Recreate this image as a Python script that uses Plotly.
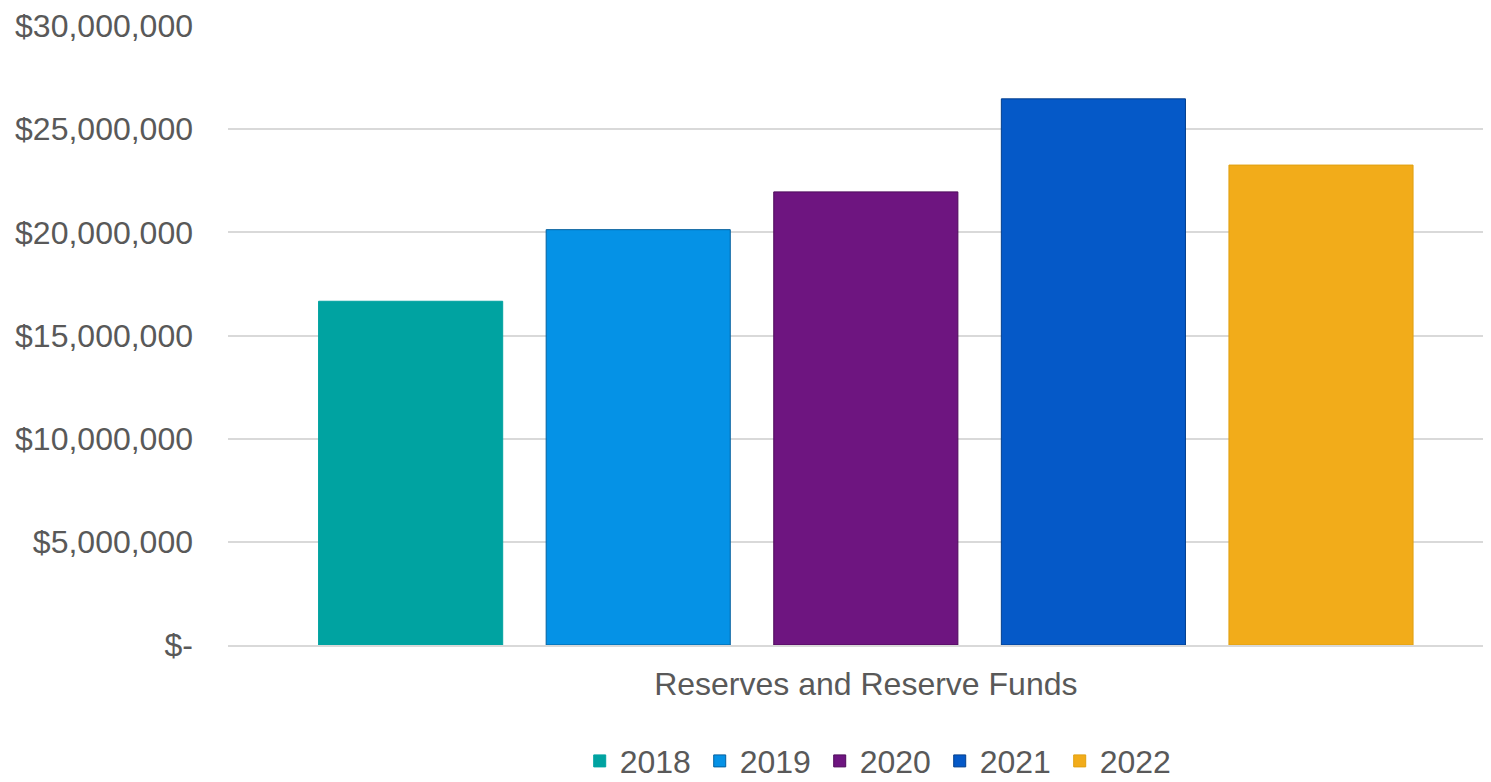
import plotly.graph_objects as go

category = ["Reserves and Reserve Funds"]
years = ["2018", "2019", "2020", "2021", "2022"]
values = [16660000, 20130000, 21960000, 26470000, 23260000]
colors = ["#00A3A1", "#0592E6", "#6E1580", "#0559C8", "#F2AC1A"]
line_colors = ["#00A3A1", "#05609E", "#4E0B5A", "#043F8C", "#E0A010"]

tick_vals = [0, 5000000, 10000000, 15000000, 20000000, 25000000, 30000000]
tick_text = ["$-", "$5,000,000", "$10,000,000", "$15,000,000", "$20,000,000", "$25,000,000", "$30,000,000"]

fig = go.Figure()
for yr, v, c, lc in zip(years, values, colors, line_colors):
    fig.add_trace(go.Bar(x=category, y=[v], name=yr,
                         marker=dict(color=c, line=dict(color=lc, width=1))))

font_family = "Arial, Liberation Sans, sans-serif"
fig.update_layout(
    width=1483, height=774,
    margin=dict(l=220, r=0, t=14, b=137),
    paper_bgcolor="white", plot_bgcolor="white",
    barmode="group", bargap=0.099, bargroupgap=0.191,
    font=dict(family=font_family, size=32, color="#595959"),
    xaxis=dict(showgrid=False, showline=True, linecolor="#D9D9D9", linewidth=2,
               ticks="", range=[-0.505, 0.495], ticklabelstandoff=10,
               tickfont=dict(size=32, color="#595959")),
    yaxis=dict(range=[0, 30000000], tickvals=tick_vals, ticktext=tick_text,
               showgrid=True, gridcolor="#D9D9D9", gridwidth=2, zeroline=False,
               ticks="", ticklabelstandoff=34, ticklabeloverflow="allow",
               tickfont=dict(size=32, color="#595959")),
    legend=dict(orientation="h", xref="paper", x=0.516, xanchor="center",
                yref="container", y=0.027, yanchor="middle",
                font=dict(size=32, color="#595959"), entrywidth=75,
                traceorder="normal"),
    showlegend=True,
)

fig.write_html("out.html")
